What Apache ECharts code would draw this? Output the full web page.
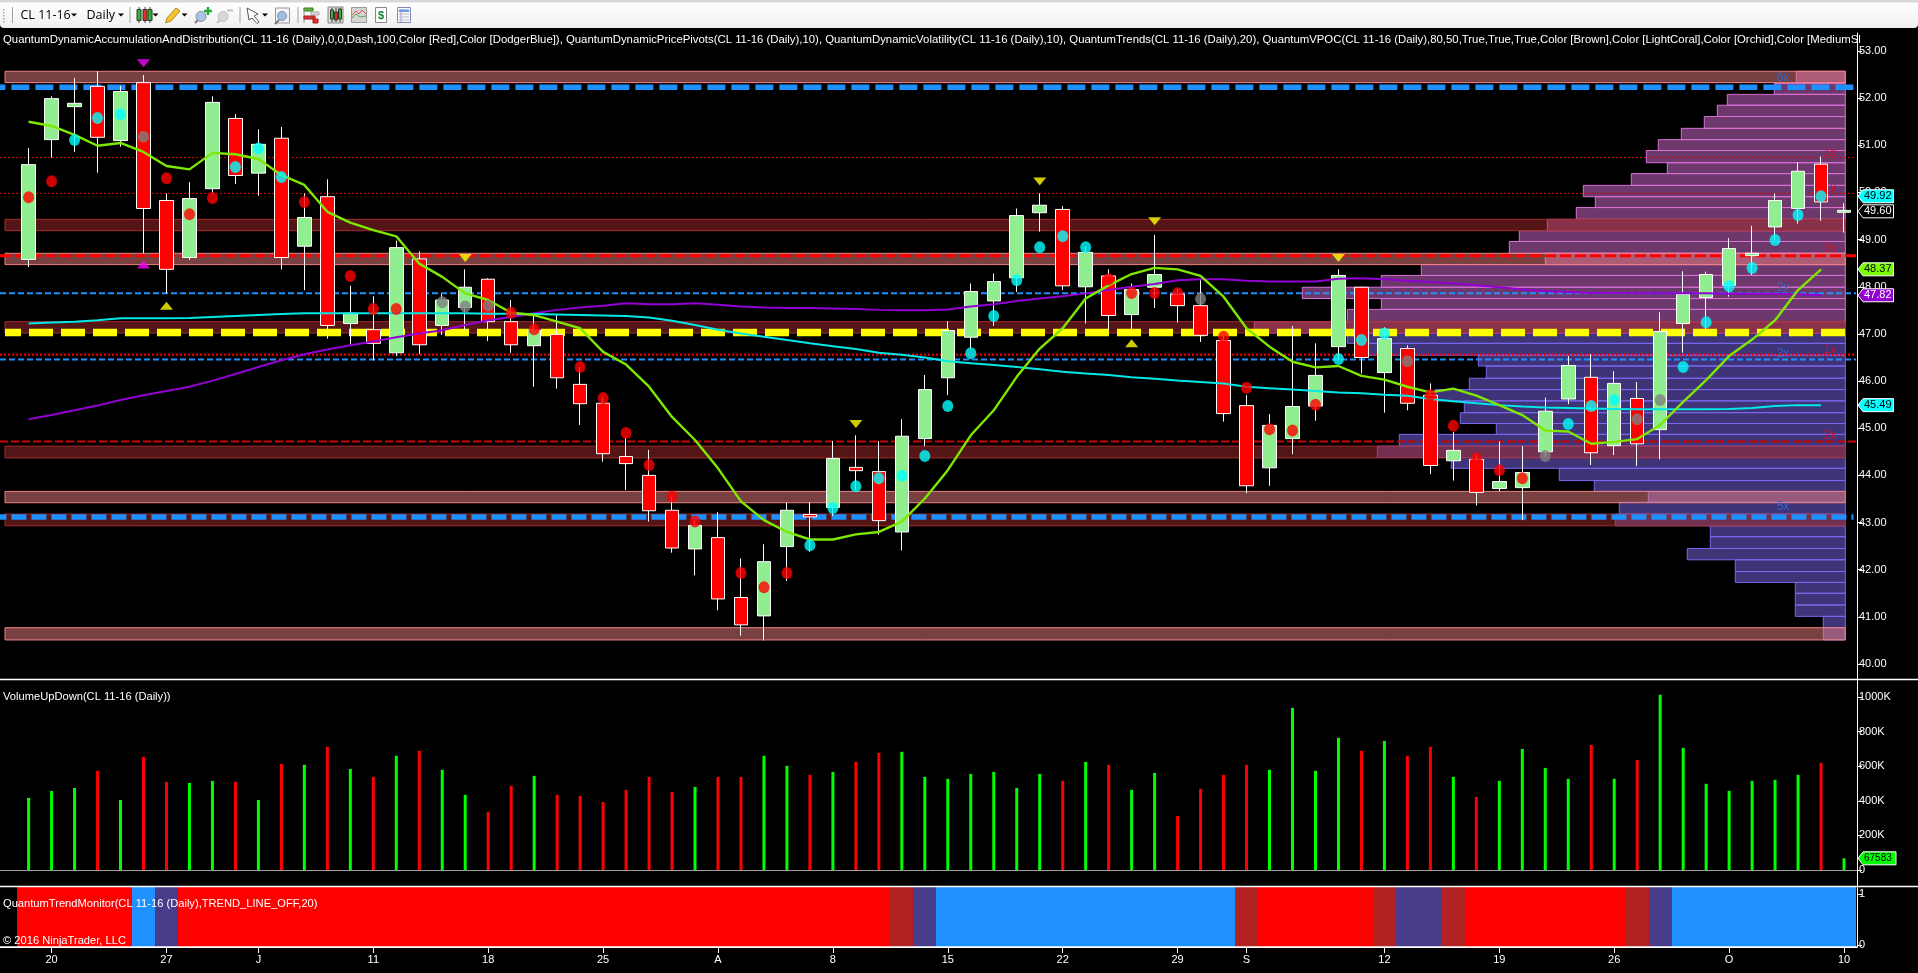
<!DOCTYPE html>
<html><head><meta charset="utf-8">
<style>html,body{margin:0;padding:0;background:#000;overflow:hidden}#c{width:1918px;height:973px}</style>
<script src="https://cdn.jsdelivr.net/npm/echarts@6/dist/echarts.min.js"></script>
</head><body><div id="c"></div>
<script>
const opens=[48.58,51.12,51.82,52.25,51.10,52.33,49.83,48.62,50.08,51.57,50.41,51.15,48.86,49.91,47.22,47.09,46.60,48.59,47.18,47.56,48.16,47.26,46.75,46.99,45.93,45.53,44.40,44.00,43.26,42.44,42.68,41.41,41.02,42.49,43.17,43.32,44.17,44.08,42.80,44.78,46.07,46.93,47.70,48.19,49.57,49.64,48.00,48.23,47.41,47.99,47.84,47.60,46.86,45.48,44.16,44.78,45.47,46.73,47.99,46.18,46.69,45.70,44.31,44.34,43.72,43.74,44.50,45.62,46.08,44.63,45.63,44.97,47.22,47.77,48.03,48.66,49.27,49.66,50.60,49.58];
const closes=[50.59,51.99,51.89,51.17,52.14,49.66,48.37,49.87,51.91,50.36,51.02,48.62,49.47,47.18,47.44,46.80,48.83,46.77,47.72,47.99,47.26,46.77,47.08,46.07,45.52,44.46,44.25,43.25,42.46,42.94,41.38,40.83,42.17,43.26,43.12,44.36,44.10,43.04,44.83,45.82,47.07,47.90,48.11,49.51,49.73,48.02,48.73,47.39,47.94,48.26,47.60,46.97,45.31,43.78,45.06,45.46,46.12,48.24,46.50,46.90,45.53,44.21,44.53,43.64,43.87,44.06,45.36,46.33,44.48,45.95,44.67,47.05,47.84,48.26,48.81,48.71,49.83,50.45,49.80,49.62];
const lows=[48.42,50.74,50.86,50.42,50.97,48.71,47.86,48.57,49.98,50.18,49.93,48.37,47.93,46.90,46.78,46.44,46.53,46.57,46.98,47.08,46.85,46.60,45.88,45.84,45.07,44.29,43.69,43.02,42.36,41.88,41.14,40.60,40.50,41.76,42.38,43.14,43.69,42.74,42.41,44.62,45.70,46.69,47.17,47.89,49.17,47.93,47.22,47.08,47.02,47.55,47.24,46.83,45.14,43.62,43.78,44.45,45.16,46.44,46.16,45.33,45.38,44.03,43.89,43.36,43.66,43.05,44.39,45.51,44.22,44.43,44.20,44.34,46.60,47.01,47.79,48.25,48.99,49.34,49.40,49.15];
const highs=[50.94,52.04,52.43,52.57,52.26,52.49,49.98,50.22,52.04,51.66,51.34,51.39,49.98,50.28,48.02,47.80,48.98,48.75,47.84,48.37,48.18,47.72,47.40,47.40,46.30,45.67,44.82,44.54,43.55,43.05,43.22,42.24,42.54,43.42,43.43,44.73,44.85,44.73,45.19,46.13,47.27,48.07,48.28,49.66,49.98,49.71,48.85,48.37,48.07,49.10,47.96,48.14,47.05,45.70,45.30,47.17,46.80,48.37,48.00,47.14,46.76,45.95,44.92,44.43,44.72,44.62,45.65,46.53,46.57,46.21,45.98,47.46,48.33,48.32,49.03,49.29,49.98,50.64,50.76,49.77];
const volumes=[417000,457000,474000,573000,405000,654000,509000,503000,515000,509000,405000,613000,608000,712000,584000,538000,660000,689000,579000,434000,336000,486000,544000,434000,428000,393000,463000,538000,451000,480000,538000,538000,660000,602000,550000,567000,625000,677000,683000,538000,527000,555000,567000,474000,555000,515000,625000,608000,463000,561000,312000,469000,550000,608000,579000,937000,573000,764000,689000,746000,660000,712000,538000,422000,515000,700000,590000,527000,723000,527000,636000,1013000,706000,498000,457000,515000,521000,550000,619000,67583];
const trendLine=[51.50,51.41,51.22,50.99,51.05,50.86,50.56,50.49,50.84,50.81,50.71,50.37,50.16,49.59,49.36,49.20,49.07,48.49,48.21,47.86,47.72,47.45,47.40,47.26,47.12,46.62,46.35,45.88,45.24,44.75,44.15,43.45,43.05,42.80,42.64,42.64,42.75,42.80,43.02,43.51,44.11,44.85,45.38,46.09,46.69,47.12,47.75,48.03,48.27,48.40,48.37,48.23,47.79,47.12,46.73,46.41,46.29,46.32,46.11,46.03,45.88,45.76,45.84,45.69,45.49,45.28,44.95,44.93,44.67,44.71,44.77,45.07,45.56,46.02,46.53,46.88,47.29,47.93,48.37];
const cyanLine=[47.22,47.24,47.26,47.29,47.33,47.33,47.33,47.34,47.36,47.38,47.40,47.42,47.44,47.44,47.44,47.44,47.44,47.44,47.44,47.44,47.43,47.43,47.42,47.41,47.40,47.39,47.38,47.35,47.28,47.19,47.09,47.01,46.94,46.87,46.80,46.74,46.68,46.60,46.56,46.50,46.42,46.38,46.34,46.30,46.25,46.20,46.16,46.13,46.08,46.05,46.01,45.98,45.95,45.88,45.85,45.82,45.79,45.76,45.74,45.71,45.69,45.62,45.57,45.53,45.49,45.46,45.44,45.43,45.42,45.41,45.40,45.40,45.40,45.40,45.41,45.43,45.47,45.49,45.49];
const purpleLine=[45.19,45.28,45.38,45.48,45.60,45.70,45.79,45.88,46.01,46.15,46.30,46.44,46.57,46.67,46.76,46.84,46.93,47.01,47.08,47.19,47.29,47.36,47.44,47.51,47.56,47.60,47.65,47.63,47.63,47.65,47.62,47.58,47.56,47.55,47.55,47.54,47.53,47.51,47.50,47.50,47.52,47.58,47.63,47.70,47.75,47.80,47.86,47.93,48.00,48.06,48.14,48.16,48.16,48.13,48.11,48.11,48.11,48.17,48.18,48.16,48.13,48.10,48.07,48.03,47.99,47.94,47.91,47.89,47.87,47.87,47.86,47.86,47.86,47.86,47.85,47.85,47.85,47.84,47.82];
const cyanDots=[[2,51.11],[3,51.58],[4,51.66],[9,50.54],[10,50.93],[11,50.33],[34,42.52],[35,43.31],[36,43.77],[37,43.94],[38,43.99],[39,44.41],[40,45.47],[41,46.59],[42,47.38],[43,48.14],[44,48.84],[45,49.07],[46,48.84],[57,46.47],[58,46.87],[59,47.01],[67,45.09],[68,45.47],[69,45.60],[72,46.30],[73,47.25],[74,48.01],[75,48.40],[76,48.99],[77,49.52],[78,49.92]];
const redDots=[[0,49.90],[1,50.24],[6,50.30],[7,49.54],[8,49.88],[12,49.80],[14,48.23],[15,47.53],[16,47.53],[21,47.45],[22,47.10],[24,46.30],[25,45.64],[26,44.90],[27,44.22],[28,43.55],[29,43.02],[31,41.93],[32,41.63],[33,41.93],[47,48.16],[48,47.87],[49,47.87],[50,47.86],[52,46.94],[53,45.86],[54,44.98],[55,44.95],[56,45.50],[61,45.70],[62,45.05],[63,44.36],[64,44.11],[65,43.94]];
const grayDots=[[5,51.18],[18,47.67],[19,47.58],[20,47.60],[51,47.74],[60,46.42],[66,44.41],[70,45.19],[71,45.60]];
const yellowDown=[[19,48.61],[36,45.09],[44,50.23],[49,49.39],[57,48.61]];
const yellowUp=[[6,47.60],[48,46.80]];
const magentaDown=[[5,52.74]];
const magentaUp=[[5,48.47]];
const coralZones=[[52.57,52.33],[48.71,48.47],[43.66,43.42],[40.77,40.51]];
const brownZones=[[49.43,49.19],[47.26,47.02],[44.62,44.37],[43.18,42.93]];
const profileBottoms=[40.51,40.77,41.01,41.25,41.50,41.73,41.96,42.21,42.45,42.70,42.93,43.18,43.43,43.66,43.89,44.15,44.38,44.62,44.87,45.10,45.33,45.58,45.82,46.06,46.32,46.55,46.80,47.02,47.26,47.52,47.75,47.99,48.24,48.47,48.71,48.96,49.19,49.43,49.68,49.91,50.15,50.40,50.63,50.89,51.12,51.36,51.61,51.85,52.08,52.31,52.57];
const profileVolumes=[22,22,50,50,50,110,110,158,135,135,230,226,197,251,286,394,468,446,349,385,381,410,376,359,367,483,498,591,498,464,543,464,424,300,336,326,298,269,250,262,214,178,199,187,164,141,128,118,71,49];
const priceTicks=[40,41,42,43,44,45,46,47,48,49,50,51,52,53];
const volumeTicks=[0,200000,400000,600000,800000,1000000];
const trendTicks=[0,1];
const dateTickIndex=[1,6,10,15,20,25,30,35,40,45,50,53,59,64,69,74,79];
const dateTickLabels=['20','27','J','11','18','25','A','8','15','22','29','S','12','19','26','O','10'];
const trendStates=['R','R','R','R','R','B','D','R','R','R','R','R','R','R','R','R','R','R','R','R','R','R','R','R','R','R','R','R','R','R','R','R','R','R','R','R','R','R','F','D','B','B','B','B','B','B','B','B','B','B','B','B','B','F','R','R','R','R','R','F','D','D','F','R','R','R','R','R','R','R','F','D','B','B','B','B','B','B','B','B'];
const redTagPrices=[50.74,49.98,48.66,46.56,44.72];
const redTagTexts=['1x','1x','3x','1x','2x'];
const blueTagPrices=[52.23,47.86,46.46,43.12];
const blueTagTexts=['6x','2x','2x','5x'];
const priceTags=[49.92,49.60,48.37,47.82,45.49];
const volumeTags=[67583];

// --- layout of the picture ---
const SANS='"Liberation Sans",Arial,sans-serif';
const AX=1857, SLOT=22.98, X0=28.6;
const xMin=-X0/SLOT, xMax=(AX-X0)/SLOT;
const zoneL=(5-X0)/SLOT, zoneR=(1845.3-X0)/SLOT;
const pxPerPrice=47.15;
const pTop=53+18/pxPerPrice, pBot=40-15/pxPerPrice;
const trendColors={R:'#FF0000',B:'#1E90FF',D:'#483D8B',F:'#B22222'};
const idx=a=>a.map((v,i)=>[i,v]);

const xCommon={type:'value',min:xMin,max:xMax,axisLine:{show:false},axisTick:{show:false},axisLabel:{show:false},splitLine:{show:false}};
function yCommon(g,min,max,ticks,fmt){return{type:'value',gridIndex:g,position:'right',min,max,scale:false,
  axisLine:{show:true,onZero:false,lineStyle:{color:'#fff',width:1}},
  axisTick:{show:true,length:5,lineStyle:{color:'#fff',width:1},customValues:ticks},
  axisLabel:{show:true,color:'#fff',fontFamily:SANS,fontSize:11,margin:2,customValues:ticks,formatter:fmt,hideOverlap:false},
  splitLine:{show:false}};}

function bandRect(api,l,r,top,bot){const a=api.coord([l,top]),b=api.coord([r,bot]);return{x:a[0],y:a[1],width:b[0]-a[0],height:b[1]-a[1]};}
function zoneSeries(zones,fill,stroke){return{type:'custom',xAxisIndex:0,yAxisIndex:0,z:3,silent:true,clip:false,data:zones,
  renderItem:(p,api)=>({type:'rect',shape:bandRect(api,zoneL,zoneR,api.value(0),api.value(1)),style:{fill,stroke,lineWidth:1}})};}
function level(price,color,width,dash,left,right,offset){return{type:'line',xAxisIndex:0,yAxisIndex:0,z:4,silent:true,symbol:'none',
  data:[[left,price],[right,price]],lineStyle:{color,width,type:dash,dashOffset:offset||0},animation:false};}
function dots(data,color){return{type:'scatter',xAxisIndex:0,yAxisIndex:0,z:9,silent:true,data,symbol:'circle',symbolSize:[11,12],itemStyle:{color}};}
function tris(data,color,rot){return{type:'scatter',xAxisIndex:0,yAxisIndex:0,z:9,silent:true,data,symbol:'triangle',symbolSize:[13,8],symbolRotate:rot,itemStyle:{color}};}
function lineS(values,color,w){return{type:'line',xAxisIndex:0,yAxisIndex:0,z:8,silent:true,symbol:'none',data:idx(values),lineStyle:{color,width:w}};}
function tagSeries(values,xi,yi,fills,txt,font,right){return{type:'custom',xAxisIndex:xi,yAxisIndex:yi,z:20,silent:true,clip:false,data:values.map(v=>[0,v]),
  renderItem:(p,api)=>{const y=api.coord([0,api.value(1)])[1],i=p.dataIndex,h=6.5;
    return{type:'group',children:[
      {type:'polygon',shape:{points:[[1858,y],[1863,y-h],[right,y-h],[right,y+h],[1863,y+h]]},style:{fill:fills[i],stroke:'#fff',lineWidth:1}},
      {type:'text',style:{x:1864,y:y,text:txt(values[i]),fill:(fills[i]==='#000000'||fills[i]==='#9400D3')?'#fff':'#000',font,verticalAlign:'middle',align:'left'}}
    ]};}};}
function tagTexts(prices,texts,px,color,lifts){return{type:'custom',xAxisIndex:0,yAxisIndex:0,z:4,silent:true,clip:false,data:prices.map(v=>[0,v]),
  renderItem:(p,api)=>{const y=api.coord([0,api.value(1)])[1];
    return{type:'text',style:{x:px,y:y-lifts[p.dataIndex],text:texts[p.dataIndex],fill:color,font:'12px '+SANS,align:'center',verticalAlign:'middle'}};}};}

const series=[];
series.push({type:'custom',xAxisIndex:3,yAxisIndex:0,z:2,silent:true,clip:false,data:profileVolumes.map((v,i)=>[v,profileBottoms[i],profileBottoms[i+1]]),
  renderItem:(p,api)=>{const a=api.coord([api.value(0),api.value(2)]),b=api.coord([0,api.value(1)]);
    const up=api.value(1)>=47;
    return{type:'rect',shape:{x:a[0],y:a[1],width:b[0]-a[0],height:b[1]-a[1]},style:{fill:up?'rgba(218,112,214,0.5)':'rgba(123,104,238,0.5)',stroke:up?'#DA70D6':'#7B68EE',lineWidth:1}};}});
series.push(zoneSeries(coralZones,'rgba(240,128,128,0.5)','#F08080'));
series.push(zoneSeries(brownZones,'rgba(165,42,42,0.5)','#A52A2A'));
const rLine=(AX-1-X0)/SLOT, bLine=(1853.5-X0)/SLOT, yLine=(1845-X0)/SLOT;
series.push(level(52.23,'#1E90FF',5.5,[18,6],xMin,bLine,12.6));
series.push(level(43.12,'#1E90FF',5.5,[15,5],xMin,bLine,8.6));
series.push(level(47.86,'#1E90FF',2,[6,3],xMin,rLine));
series.push(level(46.46,'#1E90FF',2,[6,3],xMin,rLine));
series.push(level(50.74,'#E00000',1,[2,2],xMin,rLine));
series.push(level(49.98,'#E00000',1,[2,2],xMin,rLine));
series.push(level(46.56,'#FF0000',2,[2,2],xMin,rLine));
series.push(level(48.66,'#FF0000',3,[11,4],xMin,rLine));
series.push(level(44.72,'#D00000',2,[8,3],xMin,rLine));
series.push(level(47.03,'#FFFF00',7.5,[24,8],zoneL,yLine,8));
series.push(tagTexts(redTagPrices,redTagTexts,1830,'#D0102C',[5,5,7,5,6]));
series.push(tagTexts(blueTagPrices,blueTagTexts,1783,'#3366CC',[10,6,6,10]));
series.push({type:'candlestick',xAxisIndex:0,yAxisIndex:0,z:6,silent:true,barWidth:14,clip:false,
  data:opens.map((o,i)=>[i,o,closes[i],lows[i],highs[i]]),encode:{x:0,y:[1,2,3,4]},
  itemStyle:{color:'#90EE90',color0:'#FF0000',borderColor:'#FFFFFF',borderColor0:'#FFFFFF',borderWidth:1}});
series.push(lineS(purpleLine,'#9400D3',2));
series.push(lineS(cyanLine,'#00E8E8',2));
series.push(lineS(trendLine,'#7FE800',2.4));
series.push(dots(grayDots,'#808080'));
series.push(dots(redDots,'#FF0000'));
series.push(dots(cyanDots,'#00FFFF'));
series.push(tris(yellowDown,'#FFFF00',180));
series.push(tris(yellowUp,'#FFFF00',0));
series.push(tris(magentaDown,'#FF00FF',180));
series.push(tris(magentaUp,'#FF00FF',0));
series.push(tagSeries(priceTags,0,0,['#00FFFF','#000000','#7CFC00','#9400D3','#00FFFF'],v=>v.toFixed(2),'11px '+SANS,1893.5));
series.push({type:'bar',xAxisIndex:1,yAxisIndex:1,z:5,silent:true,barWidth:3,
  data:volumes.map((v,i)=>({value:[i,v],itemStyle:{color:closes[i]>=opens[i]?'#00FF00':'#FF0000'}})),
  markLine:{silent:true,symbol:'none',label:{show:false},lineStyle:{color:'#A0A0A0',width:1,type:'solid'},data:[{yAxis:0}],animation:false}});
series.push(tagSeries(volumeTags,1,1,['#00FF00'],v=>String(v),'10px '+SANS,1896));
series.push({type:'custom',xAxisIndex:2,yAxisIndex:2,z:5,silent:true,clip:true,data:trendStates.map((s,i)=>[i]),
  renderItem:(p,api)=>{const i=api.value(0),a=api.coord([i-0.5,2]),b=api.coord([i+0.5,-1]),c=trendColors[trendStates[i]];
    return{type:'rect',shape:{x:Math.round(a[0]),y:p.coordSys.y,width:Math.round(b[0])-Math.round(a[0]),height:p.coordSys.height},style:{fill:c}};}});

const g=[];
const T=(x,y,text,fill,font,extra)=>g.push({type:'text',x,y,z:100,style:Object.assign({text,fill:fill,font:font||'11.15px '+SANS,verticalAlign:'middle'},extra||{})});
const R=(x,y,w,h,fill,stroke)=>g.push({type:'rect',z:100,shape:{x,y,width:w,height:h},style:{fill:fill||'none',stroke:stroke||null,lineWidth:1}});
const L=(x1,y1,x2,y2,c,w)=>g.push({type:'line',z:100,shape:{x1,y1,x2,y2},style:{stroke:c,lineWidth:w||1}});
const Arrow=(x,y)=>g.push({type:'polygon',z:101,shape:{points:[[x-3,y-1.5],[x+3,y-1.5],[x,y+1.5]]},style:{fill:'#000'}});
g.push({type:'rect',z:99,shape:{x:0,y:2,width:1918,height:26,r:[0,0,4,4]},style:{fill:{type:'linear',x:0,y:0,x2:0,y2:1,colorStops:[{offset:0,color:'#FFFFFF'},{offset:1,color:'#F0F0F0'}]}}});
R(0,0,1918,2.5,'#D8D8D8');
[9,12,15,18,21].forEach(y=>R(3,y,1.5,1.5,'#A8A8A8'));
[[12.5],[130],[240],[298]].forEach(a=>L(a[0],7,a[0],23,'#A0A0A0'));
T(20.5,15,'CL 11-16','#000','12.5px "Open Sans",'+SANS);Arrow(74,15);
T(86.5,15,'Daily','#000','12.5px "Open Sans",'+SANS);Arrow(121,15);
[[139,'#2FB82F'],[145,'#E03030'],[150,'#2FB82F']].forEach(a=>{L(a[0],7,a[0],23,'#444');R(a[0]-2,9.5,4,11,a[1],'#333');});Arrow(155.5,15);
g.push({type:'polygon',z:101,shape:{points:[[165.5,23],[167,18],[176,8],[180,11],[171,21]]},style:{fill:'#F4C430',stroke:'#B08820'}});Arrow(184.5,15);
L(195,23,199,19,'#777',2);g.push({type:'circle',z:101,shape:{cx:201,cy:16.5,r:5},style:{fill:'#A9C4E4',stroke:'#8090A8'}});
L(204,11,212,11,'#22AA33',2.5);L(208,7,208,15,'#22AA33',2.5);
L(217,23,221,19,'#C4C4C4',2);g.push({type:'circle',z:101,shape:{cx:223,cy:16.5,r:5},style:{fill:'#D8D8D8',stroke:'#C0C0C0'}});L(227,10.5,233,10.5,'#C0C0C0',2);
g.push({type:'polygon',z:101,shape:{points:[[247,8],[258,14],[254,16],[259,22],[257,23.5],[252,18],[249,20]]},style:{fill:'#FFF',stroke:'#555'}});Arrow(265,15);
R(275.5,8,14,15,'#F0F4F8','#999');L(275,24,279,20,'#777',2);g.push({type:'circle',z:101,shape:{cx:282,cy:16,r:4.5},style:{fill:'#9FBFE4',stroke:'#8090A8'}});
R(304,8,9,3,'#55BB33','#357A20');L(304,8,304,23,'#888');R(311,12,8,3,'#DDD','#AAA');R(304,16,11,3,'#E03030','#A02020');R(313,19,5,4,'#E03030','#A02020');
R(328,7,15,16,'#D8D8D8','#888');[[332,'#2FB82F',10,9],[336,'#E03030',12,8],[340,'#2FB82F',9,10]].forEach(a=>{L(a[0],8,a[0],22,'#333');R(a[0]-1.5,a[2],3,a[3],a[1],'#333');});
R(351.5,7.5,15,15,'#D4D4D4','#999');g.push({type:'polyline',z:101,shape:{points:[[352,15],[356,11],[359,14],[362,10],[366,14]]},style:{stroke:'#E05050',fill:'none'}});g.push({type:'polyline',z:101,shape:{points:[[352,18],[356,14],[360,17],[366,16]]},style:{stroke:'#55AA66',fill:'none'}});
R(375.5,7.5,11,15,'#FFF','#888');T(378,15.5,'$','#188038','bold 11px '+SANS);
R(397.5,7.5,13,15,'#F4F8FF','#8888BB');R(399,9.5,10,2.5,'#6699DD');L(401,9,401,22,'#AA88DD');L(399,14,409,14,'#BBB');L(399,17,409,17,'#BBB');L(399,20,409,20,'#BBB');
const head='QuantumDynamicAccumulationAndDistribution(CL 11-16 (Daily),0,0,Dash,100,Color [Red],Color [DodgerBlue]), QuantumDynamicPricePivots(CL 11-16 (Daily),10), QuantumDynamicVolatility(CL 11-16 (Daily),10), QuantumTrends(CL 11-16 (Daily),20), QuantumVPOC(CL 11-16 (Daily),80,50,True,True,True,Color [Brown],Color [LightCoral],Color [Orchid],Color [MediumSl';
T(3,40,head,'#fff','11.36px '+SANS);
T(3,697,'VolumeUpDown(CL 11-16 (Daily))','#fff');
T(3,904,'QuantumTrendMonitor(CL 11-16 (Daily),TREND_LINE_OFF,20)','#fff');
T(3,941,'© 2016 NinjaTrader, LLC','#fff');
[679.5,886.5].forEach(y=>L(0,y,1918,y,'#fff',1.5));
L(0,947,AX,947,'#fff',1.5);

const chart=echarts.init(document.getElementById('c'),null,{renderer:'canvas',width:1918,height:973});
chart.setOption({
  animation:false,backgroundColor:'#000',
  tooltip:{show:false},
  grid:[
    {left:0,top:33,width:AX,height:646},
    {left:0,top:680,width:AX,height:206},
    {left:0,top:887,width:AX,height:60},
  ],
  xAxis:[
    Object.assign({},xCommon,{gridIndex:0}),
    Object.assign({},xCommon,{gridIndex:1}),
    Object.assign({},xCommon,{gridIndex:2,position:'bottom',
      axisLine:{show:true,onZero:false,lineStyle:{color:'#fff',width:1}},
      axisTick:{show:true,length:6,lineStyle:{color:'#fff'},customValues:dateTickIndex},
      axisLabel:{show:true,color:'#fff',fontFamily:SANS,fontSize:11,margin:7,customValues:dateTickIndex,hideOverlap:false,
        formatter:v=>dateTickLabels[dateTickIndex.indexOf(v)]}}),
    {type:'value',gridIndex:0,inverse:true,min:-(AX-1845.3),max:1845.3,show:false},
  ],
  yAxis:[
    yCommon(0,pBot,pTop,priceTicks,v=>v.toFixed(2)),
    yCommon(1,-92486,1098000,volumeTicks,v=>v===0?'0':(v/1000)+'K'),
    yCommon(2,-2/51,1+7/51,trendTicks,v=>String(v)),
  ],
  series,
  graphic:{elements:g}
});
</script></body></html>
